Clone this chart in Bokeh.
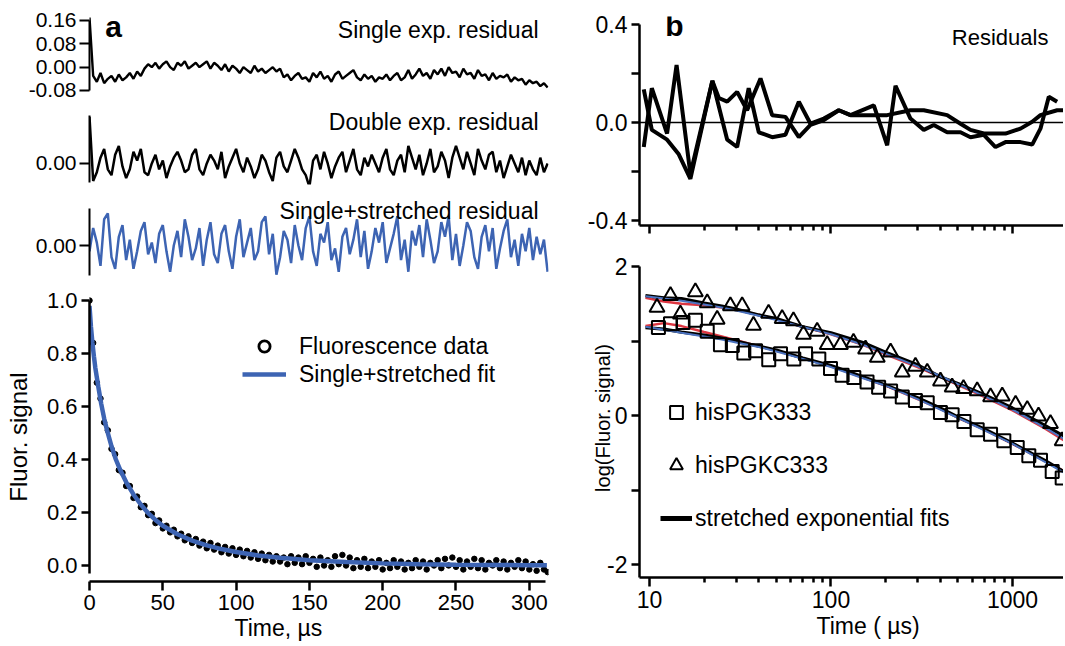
import math
from bokeh.plotting import figure
from bokeh.layouts import row, column
from bokeh.models import (Range1d, FixedTicker, PrintfTickFormatter, Label, Legend,
                          LegendItem, Span)
from bokeh.embed import file_html
from bokeh.resources import INLINE

FONT = "Liberation Sans"
BLUE_A = "#3d64b3"
BLUE_B = "#4a72bf"
RED_B = "#dc3540"

# ---------------- Panel a data ----------------
TIME_A = [
    0, 2.5, 5, 7.5, 10, 12.5, 15, 17.5, 20, 22.5,
    25, 27.5, 30, 32.5, 35, 37.5, 40, 42.5, 45, 47.5,
    50, 52.5, 55, 57.5, 60, 62.5, 65, 67.5, 70, 72.5,
    75, 77.5, 80, 82.5, 85, 87.5, 90, 92.5, 95, 97.5,
    100, 102.5, 105, 107.5, 110, 112.5, 115, 117.5, 120, 122.5,
    125, 127.5, 130, 132.5, 135, 137.5, 140, 142.5, 145, 147.5,
    150, 152.5, 155, 157.5, 160, 162.5, 165, 167.5, 170, 172.5,
    175, 177.5, 180, 182.5, 185, 187.5, 190, 192.5, 195, 197.5,
    200, 202.5, 205, 207.5, 210, 212.5, 215, 217.5, 220, 222.5,
    225, 227.5, 230, 232.5, 235, 237.5, 240, 242.5, 245, 247.5,
    250, 252.5, 255, 257.5, 260, 262.5, 265, 267.5, 270, 272.5,
    275, 277.5, 280, 282.5, 285, 287.5, 290, 292.5, 295, 297.5,
    300, 302.5, 305, 307.5, 310, 312.5]

FLUOR_DATA = [
    1.00, 0.84, 0.69, 0.63, 0.54, 0.51, 0.44, 0.42, 0.36, 0.35,
    0.30, 0.30, 0.255, 0.26, 0.22, 0.225, 0.19, 0.195, 0.16, 0.17,
    0.14, 0.15, 0.125, 0.135, 0.11, 0.12, 0.095, 0.11, 0.085, 0.10,
    0.075, 0.09, 0.065, 0.085, 0.06, 0.075, 0.05, 0.07, 0.045, 0.065,
    0.04, 0.06, 0.035, 0.055, 0.03, 0.05, 0.025, 0.045, 0.02, 0.04,
    0.015, 0.035, 0.015, 0.03, 0.005, 0.035, 0.01, 0.03, 0.005, 0.035,
    0.01, 0.025, -0.005, 0.03, 0.0, 0.02, -0.005, 0.035, 0.005, 0.04,
    0.0, 0.03, -0.01, 0.02, -0.005, 0.025, -0.01, 0.015, -0.005, 0.02,
    -0.015, 0.01, -0.01, 0.02, -0.005, 0.015, -0.015, 0.01, -0.01, 0.02,
    -0.005, 0.015, -0.015, 0.01, 0.0, 0.02, -0.01, 0.025, 0.0, 0.03,
    -0.005, 0.02, -0.015, 0.015, -0.005, 0.025, -0.01, 0.02, -0.015, 0.01,
    0.0, 0.02, -0.01, 0.015, -0.015, 0.01, -0.005, 0.02, -0.01, 0.015,
    -0.015, 0.005, -0.02, 0.01, -0.015, -0.025]

FIT_T = [0, 1, 2, 3, 4, 5, 6, 8, 10, 12, 15, 18, 21, 25, 30, 35, 40, 45, 50,
         60, 70, 80, 90, 100, 115, 130, 150, 175, 200, 225, 250, 275, 300, 312]
FIT_Y = [0.98, 0.90, 0.84, 0.79, 0.745, 0.71, 0.675, 0.61, 0.555, 0.51, 0.45,
         0.40, 0.36, 0.315, 0.268, 0.23, 0.198, 0.172, 0.15, 0.118, 0.094, 0.076,
         0.062, 0.051, 0.038, 0.029, 0.02, 0.013, 0.008, 0.005, 0.003, 0.002,
         0.001, 0.001]

RES_SINGLE = [
    0.17, -0.03, -0.05, -0.02, -0.055, -0.04, -0.03, -0.05, -0.025, -0.045,
    -0.035, -0.02, -0.04, -0.015, -0.03, -0.005, 0.01, 0.0, 0.015, -0.005,
    0.01, 0.02, 0.0, -0.01, 0.015, 0.005, 0.02, -0.005, 0.005, 0.015,
    0.0, 0.01, 0.02, -0.005, 0.015, 0.005, -0.01, 0.01, -0.015, 0.005,
    -0.005, -0.02, 0.0, -0.01, -0.02, 0.005, -0.015, -0.005, -0.02, -0.01,
    0.0, -0.015, -0.005, -0.035, -0.025, -0.045, -0.03, -0.02, -0.04, -0.035,
    -0.05, -0.02, -0.035, -0.015, -0.04, -0.03, -0.05, -0.025, -0.015, -0.04,
    -0.03, -0.02, -0.01, -0.035, -0.045, -0.025, -0.04, -0.03, -0.05, -0.035,
    -0.04, -0.025, -0.045, -0.03, -0.02, -0.045, -0.035, -0.01, -0.04, -0.025,
    -0.005, -0.03, -0.02, -0.04, -0.01, -0.025, -0.005, -0.03, 0.0, -0.02,
    -0.015, -0.035, -0.005, -0.025, -0.02, -0.04, -0.01, -0.03, -0.025, -0.045,
    -0.02, -0.04, -0.03, -0.035, -0.025, -0.05, -0.035, -0.045, -0.04, -0.06,
    -0.045, -0.055, -0.05, -0.065, -0.055, -0.07]

RES_DOUBLE = [
    0.16, -0.06, -0.03, 0.02, 0.05, -0.02, -0.04, 0.03, 0.06, -0.01,
    -0.05, -0.02, 0.04, 0.01, 0.05, -0.03, -0.04, 0.0, 0.03, -0.02,
    0.01, -0.05, -0.01, 0.02, 0.04, 0.01, -0.03, -0.02, 0.03, 0.05,
    -0.02, -0.04, 0.0, 0.03, 0.01, -0.02, 0.04, -0.05, -0.01, 0.02,
    0.05, 0.0, -0.03, 0.02, -0.01, -0.05, -0.02, 0.03, 0.01, -0.03,
    -0.06, 0.02, 0.04, -0.01, -0.03, 0.01, 0.05, 0.02, -0.02, -0.04,
    -0.08, 0.01, 0.03, -0.02, 0.04, 0.0, -0.05, -0.01, 0.02, 0.04,
    -0.03, 0.01, 0.05, -0.02, -0.04, 0.02, -0.01, 0.03, 0.0, -0.03,
    0.02, 0.05, -0.02, -0.04, 0.01, 0.03, -0.03, 0.06, 0.02, -0.02,
    0.03, -0.04, 0.0, 0.05, -0.03, -0.01, 0.04, 0.01, -0.05, 0.02,
    0.06, 0.02, -0.02, 0.04, 0.0, -0.04, 0.05, 0.01, -0.02, 0.03,
    0.04, -0.03, 0.01, -0.05, -0.01, 0.03, 0.0, -0.03, 0.02, -0.04,
    0.01, -0.02, -0.04, 0.02, -0.03, 0.0]

RES_STRETCHED = [
    -0.02, 0.06, 0.01, -0.07, 0.09, 0.11, -0.04, -0.08, 0.03, 0.07,
    -0.05, 0.02, -0.08, -0.02, 0.05, 0.08, -0.03, 0.01, -0.06, 0.04,
    0.07, -0.02, -0.09, 0.0, 0.05, -0.04, 0.09, 0.03, -0.05, -0.01,
    0.06, -0.07, 0.02, 0.08, -0.03, -0.06, 0.04, 0.07, -0.02, -0.08,
    0.03, 0.09, -0.04, 0.01, 0.06, -0.05, -0.02, 0.08, 0.1, -0.03,
    0.04, -0.1, -0.04, 0.05, 0.02, -0.06, 0.07, 0.0, -0.05, 0.06,
    0.1, -0.02, -0.07, 0.04, 0.01, 0.08, -0.05, -0.01, -0.09, 0.03,
    0.06, -0.03, 0.02, 0.09, -0.04, 0.05, -0.08, -0.02, 0.06, 0.01,
    0.08, -0.06, -0.01, 0.04, 0.1, -0.05, 0.02, -0.09, 0.05, 0.0,
    0.07, -0.04, 0.09, 0.02, -0.06, -0.02, 0.08, 0.03, 0.1, -0.05,
    0.04, -0.07, 0.0, 0.08, 0.05, -0.04, -0.08, 0.03, 0.07, -0.02,
    0.06, -0.08, -0.01, 0.05, 0.09, -0.04, 0.02, -0.07, 0.04, -0.02,
    0.06, -0.05, 0.03, -0.03, 0.02, -0.09]

A_XTICKS = [0, 50, 100, 150, 200, 250, 300]
A_YTICKS = [0.0, 0.2, 0.4, 0.6, 0.8, 1.0]
RES1_TICKS = [-0.08, 0.0, 0.08, 0.16]

# ---------------- Panel b data ----------------
RES_B1_T = [9.3, 10.3, 12.5, 14.5, 16.8, 22.2, 24.1, 26.8, 30.4, 34.5, 40.9, 47.4,
            56.1, 66.5, 77.1, 91.3, 110.4, 128.1, 172.2, 204, 226.7, 274, 324.5,
            368.5, 436.5, 517, 587, 695, 806, 915, 1107, 1284, 1426, 1585, 1762]
RES_B1_V = [0.135, -0.03, -0.07, -0.13, -0.23, 0.17, 0.10, 0.085, 0.125, 0.05, 0.18,
            0.03, 0.023, -0.06, -0.01, 0.01, 0.05, 0.03, 0.07, -0.093, 0.15, 0.016,
            -0.03, -0.01, -0.04, -0.04, -0.06, -0.05, -0.10, -0.08, -0.08, -0.09,
            -0.025, 0.105, 0.085]
RES_B2_T = [9.3, 10.3, 12.5, 14.1, 16.8, 22.2, 26.8, 30.4, 35.2, 40.0, 47.4, 56.1,
            66.5, 77.1, 91.3, 110.4, 128.1, 172.2, 204, 274, 324.5, 436.5, 517, 587,
            695, 915, 1107, 1284, 1426, 1762, 1918]
RES_B2_V = [-0.10, 0.14, -0.045, 0.235, -0.21, 0.17, -0.07, -0.10, 0.14, -0.04, -0.06,
            -0.05, 0.085, -0.005, 0.016, 0.05, 0.03, 0.03, 0.03, 0.05, 0.05, 0.03,
            -0.005, -0.03, -0.045, -0.045, -0.025, 0.003, 0.03, 0.05, 0.05]

TRI_T = [11.0, 13.05, 14.8, 17.9, 20.8, 23.6, 27.9, 32.4, 37.4, 45.3, 53.8, 62.1,
         70.5, 83.9, 95.3, 112.8, 133, 155, 180, 213, 247, 292, 339, 401, 465, 537,
         639, 757, 878, 1040, 1206, 1391, 1619, 1878]
TRI_V = [1.45, 1.61, 1.36, 1.66, 1.51, 1.29, 1.47, 1.47, 1.21, 1.37, 1.30, 1.27,
         1.09, 1.13, 0.95, 0.95, 0.98, 0.89, 0.78, 0.85, 0.58, 0.66, 0.58, 0.46,
         0.38, 0.36, 0.33, 0.25, 0.26, 0.15, 0.08, -0.01, -0.11, -0.34]
SQ_T = [11.2, 13.05, 15.3, 17.9, 20.8, 24.6, 28.6, 33.1, 38.4, 45.4, 52.7, 62.4,
        72.4, 85.7, 99.4, 115.2, 133.6, 158, 183, 213, 247, 292, 339, 401, 465, 540,
        639, 757, 896, 1062, 1230, 1427, 1655, 1878]
SQ_V = [1.18, 1.23, 1.25, 1.28, 1.13, 0.95, 0.94, 0.84, 0.87, 0.75, 0.83, 0.76,
        0.83, 0.76, 0.63, 0.54, 0.51, 0.45, 0.38, 0.33, 0.25, 0.20, 0.17, 0.04,
        0.01, -0.08, -0.19, -0.25, -0.34, -0.43, -0.54, -0.60, -0.75, -0.84]

FITB_T = [9.5, 12, 15, 20, 25, 30, 40, 50, 70, 100, 150, 200, 300, 400, 500, 700,
          1000, 1500, 2000]
TRI_FIT_BLACK = [1.61, 1.58, 1.57, 1.51, 1.47, 1.43, 1.35, 1.30, 1.19, 1.11, 0.98,
                 0.85, 0.68, 0.52, 0.43, 0.28, 0.10, -0.13, -0.30]
TRI_FIT_RED = [1.58, 1.53, 1.50, 1.48, 1.45, 1.42, 1.35, 1.29, 1.19, 1.09, 0.95,
               0.82, 0.65, 0.52, 0.41, 0.25, 0.07, -0.17, -0.36]
TRI_FIT_BLUE = [1.60, 1.57, 1.54, 1.49, 1.45, 1.41, 1.34, 1.28, 1.19, 1.09, 0.95,
                0.83, 0.66, 0.53, 0.42, 0.26, 0.08, -0.16, -0.34]
SQ_FIT_BLACK = [1.18, 1.16, 1.12, 1.08, 1.04, 1.00, 0.93, 0.88, 0.77, 0.67, 0.52,
                0.41, 0.24, 0.10, -0.02, -0.18, -0.37, -0.60, -0.78]
SQ_FIT_RED = [1.20, 1.24, 1.20, 1.12, 1.06, 1.01, 0.93, 0.87, 0.77, 0.66, 0.51,
              0.40, 0.22, 0.09, -0.03, -0.19, -0.38, -0.61, -0.77]
SQ_FIT_BLUE = [1.19, 1.15, 1.11, 1.06, 1.02, 0.98, 0.92, 0.86, 0.76, 0.65, 0.50,
               0.40, 0.22, 0.08, -0.03, -0.20, -0.38, -0.62, -0.79]

B_XTICKS = [10, 100, 1000]
B_XMINOR = [20, 30, 40, 50, 60, 70, 80, 90, 200, 300, 400, 500, 600, 700, 800, 900]


def make_fig(w, h, xr, yr, bl, br, bt, bb, x_type="linear", x_axis=True, title=None):
    kw = dict(width=w, height=h, x_range=xr, y_range=yr, output_backend="svg",
              toolbar_location=None, x_axis_type=x_type,
              min_border_left=bl, min_border_right=br,
              min_border_top=bt, min_border_bottom=bb)
    if not x_axis:
        kw["x_axis_location"] = None
    if title is not None:
        kw["title"] = title
        kw["title_location"] = "below"
    p = figure(**kw)
    p.grid.visible = False
    p.outline_line_color = None
    p.background_fill_color = "white"
    p.border_fill_color = "white"
    return p


def style_axis(ax, size, tick_out=8, lw=2.5, minor_out=0, standoff=4):
    ax.axis_line_width = lw
    ax.axis_line_color = "black"
    ax.major_tick_line_width = lw
    ax.major_tick_line_color = "black"
    ax.major_tick_out = tick_out
    ax.major_tick_in = 0
    ax.minor_tick_line_width = lw
    ax.minor_tick_line_color = "black"
    ax.minor_tick_out = minor_out
    ax.minor_tick_in = 0
    ax.major_label_text_font = FONT
    ax.major_label_text_font_size = f"{size}px"
    ax.major_label_text_color = "black"
    ax.major_label_standoff = standoff


def style_axis_label(ax, text, size, standoff):
    ax.axis_label = text
    ax.axis_label_text_font = FONT
    ax.axis_label_text_font_size = f"{size}px"
    ax.axis_label_text_font_style = "normal"
    ax.axis_label_text_color = "black"
    ax.axis_label_standoff = standoff


def style_title(p, offset, size):
    p.title.align = "left"
    p.title.offset = offset
    p.title.standoff = 0
    p.title.text_font = FONT
    p.title.text_font_size = f"{size}px"
    p.title.text_font_style = "normal"
    p.title.text_color = "black"


def add_text(p, x, y, text, size, align="left", bold=False):
    p.add_layout(Label(x=x, y=y, text=text, text_font=FONT,
                       text_font_size=f"{size}px", text_align=align,
                       text_baseline="middle", text_color="black",
                       text_font_style="bold" if bold else "normal"))


n = min(len(TIME_A), len(FLUOR_DATA), len(RES_SINGLE), len(RES_DOUBLE), len(RES_STRETCHED))
T = TIME_A[:n]

LW = 578  # left column width
RW = 485  # right column width
ARB = LW - 548

xa = Range1d(0, 313.1)

# ---- a1: single exp residual
a1 = make_fig(LW, 100, xa, Range1d(-0.0869, 0.1737), 89, ARB, 16, 8, x_axis=False)
a1.line(T, RES_SINGLE[:n], line_color="black", line_width=2.4)
ya = a1.yaxis[0]
style_axis(ya, 21, tick_out=10, lw=2, standoff=3)
ya.ticker = FixedTicker(ticks=RES1_TICKS)
ya.formatter = PrintfTickFormatter(format="%.2f")
ya.bounds = (-0.08, 0.16)
add_text(a1, 306.3, 0.129, "Single exp. residual", 23, align="right")
add_text(a1, 16.4, 0.139, "a", 30, align="center", bold=True)

# ---- a2: double exp residual
a2 = make_fig(LW, 92, xa, Range1d(-0.072, 0.1817), 89, ARB, 10, 8, x_axis=False)
a2.line(T, RES_DOUBLE[:n], line_color="black", line_width=2.5)
ya = a2.yaxis[0]
style_axis(ya, 21, tick_out=10, lw=2, standoff=3)
ya.ticker = FixedTicker(ticks=[0.0])
ya.formatter = PrintfTickFormatter(format="%.2f")
ya.bounds = (-0.065, 0.165)
add_text(a2, 306.3, 0.1406, "Double exp. residual", 23, align="right")

# ---- a3: single+stretched residual
a3 = make_fig(LW, 92, xa, Range1d(-0.1131, 0.1543), 89, ARB, 8, 6, x_axis=False)
a3.line(T, RES_STRETCHED[:n], line_color=BLUE_A, line_width=2.5)
ya = a3.yaxis[0]
style_axis(ya, 21, tick_out=10, lw=2, standoff=3)
ya.ticker = FixedTicker(ticks=[0.0])
ya.formatter = PrintfTickFormatter(format="%.2f")
ya.bounds = (-0.103, 0.127)
add_text(a3, 306.3, 0.1166, "Single+stretched residual", 23, align="right")

# ---- a4: main decay
a4 = make_fig(LW, 360, xa, Range1d(-0.0604, 1.0302), 89, ARB, 8, 63,
              title="Time, \u00b5s")
style_title(a4, 145, 23)
a4.scatter(T, FLUOR_DATA[:n], marker="circle", size=5.5, fill_color="black",
           line_color="black")
fit_r = a4.line(FIT_T, FIT_Y, line_color=BLUE_A, line_width=4.5)
legend_circle = a4.scatter(T, FLUOR_DATA[:n], marker="circle", size=11, fill_color=None,
                           line_color="black", line_width=2.8, visible=False)
xa4 = a4.xaxis[0]
style_axis(xa4, 22, tick_out=9, lw=2.5, standoff=4)
xa4.ticker = FixedTicker(ticks=A_XTICKS)
xa4.formatter = PrintfTickFormatter(format="%d")
xa4.bounds = (0, 311)
ya4 = a4.yaxis[0]
style_axis(ya4, 22, tick_out=8, lw=2.5, standoff=4)
ya4.ticker = FixedTicker(ticks=A_YTICKS)
ya4.formatter = PrintfTickFormatter(format="%.1f")
ya4.bounds = (-0.03, 1.0)
style_axis_label(ya4, "Fluor. signal", 24, 12)
leg_a = Legend(items=[LegendItem(label="Fluorescence data", renderers=[legend_circle]),
                      LegendItem(label="Single+stretched fit", renderers=[fit_r])],
               location=(153, 193), glyph_width=44, glyph_height=28, label_standoff=13,
               spacing=0, padding=0, margin=0, border_line_color=None,
               background_fill_alpha=0, inactive_fill_alpha=0, label_text_font=FONT,
               label_text_font_size="23px", label_text_color="black", label_height=20)
a4.add_layout(leg_a)

# ---- b1: residuals (log x)
xb = Range1d(8.81, 1910)
b1 = make_fig(RW, 250, xb, Range1d(-0.4204, 0.4327), 61, 0, 16, 25, x_type="log")
b1.add_layout(Span(location=0, dimension="width", line_color="black", line_width=1.5))
b1.line(RES_B1_T, RES_B1_V, line_color="black", line_width=4)
b1.line(RES_B2_T, RES_B2_V, line_color="black", line_width=4)
xb1 = b1.xaxis[0]
style_axis(xb1, 10, tick_out=8, lw=2.5, minor_out=5)
xb1.ticker = FixedTicker(ticks=B_XTICKS, minor_ticks=B_XMINOR)
xb1.formatter = PrintfTickFormatter(format="%d")
xb1.major_label_text_alpha = 0
yb1 = b1.yaxis[0]
style_axis(yb1, 23, tick_out=8, lw=2.5, minor_out=8, standoff=4)
yb1.ticker = FixedTicker(ticks=[-0.4, 0.0, 0.4], minor_ticks=[-0.2, 0.2])
yb1.formatter = PrintfTickFormatter(format="%.1f")
yb1.bounds = (-0.4204, 0.4)
add_text(b1, 13.7, 0.397, "b", 30, align="center", bold=True)
add_text(b1, 1578, 0.348, "Residuals", 22, align="right")

# ---- b2: log decay
b2 = make_fig(RW, 394, xb, Range1d(-2.1745, 2.1074), 61, 0, 8, 67, x_type="log",
              title="Time ( \u00b5s)")
style_title(b2, 177, 23)
for ys, col, w in ((TRI_FIT_RED, RED_B, 2.5), (SQ_FIT_RED, RED_B, 2.5),
                   (TRI_FIT_BLACK, "black", 3.2), (SQ_FIT_BLACK, "black", 3.2),
                   (TRI_FIT_BLUE, BLUE_B, 2), (SQ_FIT_BLUE, BLUE_B, 2)):
    b2.line(FITB_T, ys, line_color=col, line_width=w)
sq_r = b2.scatter(SQ_T, SQ_V, marker="square", size=13, fill_color=None,
                  line_color="black", line_width=2)
tri_r = b2.scatter(TRI_T, TRI_V, marker="triangle", size=15, fill_color=None,
                   line_color="black", line_width=2)
legend_line = b2.line(FITB_T, TRI_FIT_BLACK, line_color="black", line_width=5,
                      visible=False)
xb2 = b2.xaxis[0]
style_axis(xb2, 23, tick_out=9, lw=2.5, minor_out=5, standoff=4)
xb2.ticker = FixedTicker(ticks=B_XTICKS, minor_ticks=B_XMINOR)
xb2.formatter = PrintfTickFormatter(format="%d")
yb2 = b2.yaxis[0]
style_axis(yb2, 23, tick_out=8, lw=2.5, minor_out=8, standoff=4)
yb2.ticker = FixedTicker(ticks=[-2, 0, 2], minor_ticks=[-1, 1])
yb2.formatter = PrintfTickFormatter(format="%d")
yb2.bounds = (-2.1745, 2)
style_axis_label(yb2, "log(Fluor. signal)", 20, -10)
leg_b = Legend(items=[LegendItem(label="hisPGK333", renderers=[sq_r]),
                      LegendItem(label="hisPGKC333", renderers=[tri_r]),
                      LegendItem(label="stretched exponential fits", renderers=[legend_line])],
               location=(21, 42), glyph_width=32, glyph_height=34, label_standoff=3,
               spacing=19, padding=0, margin=0, border_line_color=None,
               background_fill_alpha=0, inactive_fill_alpha=0, label_text_font=FONT,
               label_text_font_size="23px", label_text_color="black", label_height=20)
b2.add_layout(leg_b)

layout = row(column(a1, a2, a3, a4), column(b1, b2))
open("out.html", "w").write(file_html(layout, INLINE))
